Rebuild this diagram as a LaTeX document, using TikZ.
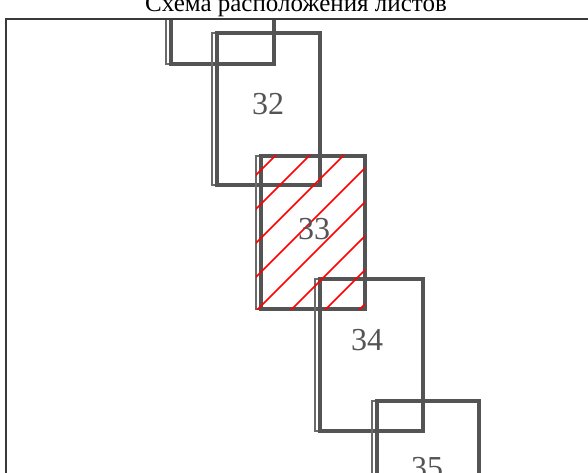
\documentclass[tikz,border=0pt]{standalone}
\usepackage{fontspec}
\setmainfont{Liberation Serif}
\definecolor{thickgray}{HTML}{545454}
\definecolor{thingray}{HTML}{6A6A6A}
\definecolor{framegray}{HTML}{3A3A3A}
\tikzset{
  sheetthick/.style={draw=thickgray, line width=3.3pt},
  sheetthin/.style={draw=thingray, line width=1.7pt},
  framelinestyle/.style={draw=framegray, line width=1.8pt},
  hatchline/.style={draw=red, line width=1.7pt},
  sheetlabel/.style={text=thickgray, font=\fontsize{32}{36}\selectfont, inner sep=0pt},
  titlelabel/.style={text=black, font=\fontsize{25}{29}\selectfont, inner sep=0pt, anchor=base}
}
\newcommand{\sheetrect}[4]{%
  \draw[sheetthin] (#1,#2) rectangle (#3,#4);
  \draw[sheetthick] ({#1+5},#2) rectangle (#3,#4);
}
\begin{document}
\begin{tikzpicture}[x=1pt,y=-1pt]
\useasboundingbox (0,0) rectangle (588,473);
\fill[white] (0,0) rectangle (588,473);
\node[titlelabel] (title) at (296,12) {Схема расположения листов};
\begin{scope}
  \clip (6,19) rectangle (588,473);
  \sheetrect{166}{-88}{274}{64}
  \sheetrect{212}{33}{320}{185}
  \sheetrect{256}{156}{365}{309}
  \sheetrect{315}{279}{423}{431}
  \sheetrect{372}{401}{479}{553}
\end{scope}
\begin{scope}
  \clip (256,156) rectangle (365,309);
  \foreach \c in {431,465,499,533,567,601,635,669} {
    \draw[hatchline] ({\c-320},320) -- ({\c-140},140);
  }
\end{scope}
\coordinate (frameTL) at (6,19);
\coordinate (frameTR) at (588,19);
\coordinate (frameBL) at (6,473);
\draw[framelinestyle] (frameBL) -- (frameTL) -- (frameTR);
\node[sheetlabel] (n32) at (268,104) {32};
\node[sheetlabel] (n33) at (314,229) {33};
\node[sheetlabel] (n34) at (367,340) {34};
\node[sheetlabel] (n35) at (427,468) {35};
\end{tikzpicture}
\end{document}
